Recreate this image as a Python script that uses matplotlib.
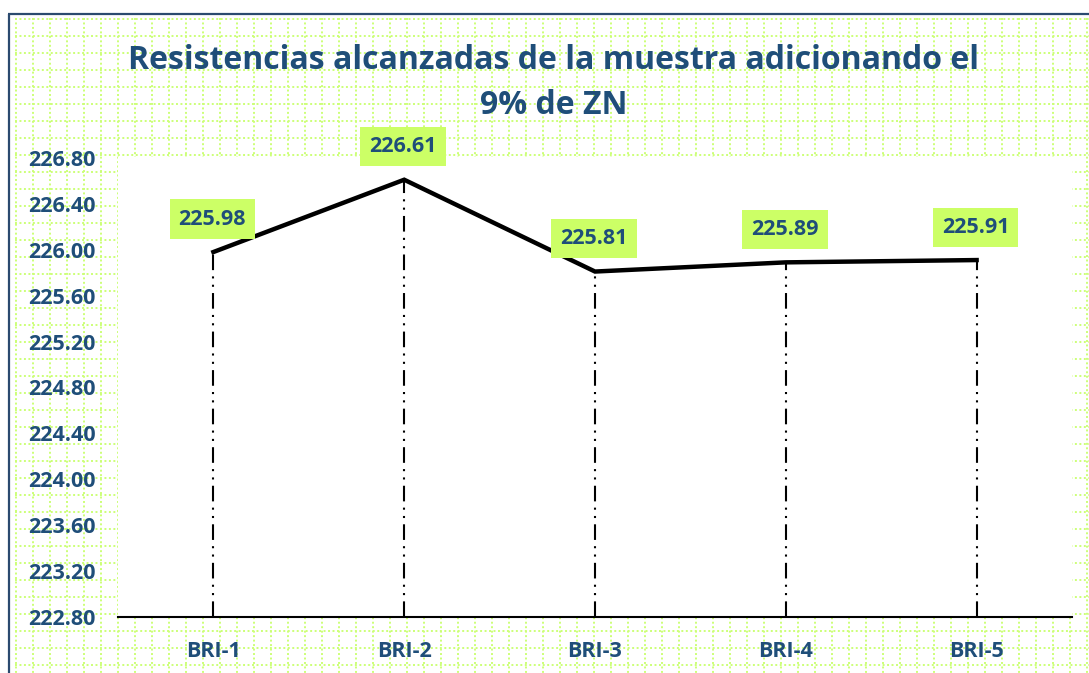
import matplotlib
matplotlib.use("Agg")
import matplotlib.pyplot as plt
import numpy as np

categories = ["BRI-1", "BRI-2", "BRI-3", "BRI-4", "BRI-5"]
values = [225.98, 226.61, 225.81, 225.89, 225.91]
value_labels = ["225.98", "226.61", "225.81", "225.89", "225.91"]
yticks = [222.80, 223.20, 223.60, 224.00, 224.40, 224.80, 225.20, 225.60, 226.00, 226.40, 226.80]
title = "Resistencias alcanzadas de la muestra adicionando el\n9% de ZN"

W, H = 1089, 673
DPI = 100
navy = "#1F4E79"
green_box = "#CCFF66"
grid_green = "#CCFF77"
FONT = ["Open Sans", "DejaVu Sans"]

fig = plt.figure(figsize=(W / DPI, H / DPI), dpi=DPI)
fig.patch.set_facecolor("white")

# background dotted grid (decoration)
bg = fig.add_axes([0, 0, 1, 1], zorder=0)
bg.set_xlim(0, W)
bg.set_ylim(H, 0)
bg.axis("off")
for gx in np.arange(15.7, W, 17.0):
    bg.plot([gx, gx], [18, H], color=grid_green, lw=1.4, ls=(0, (1.0, 1.3)))
for gy in np.arange(19.3, H, 17.0):
    bg.plot([15, W], [gy, gy], color=grid_green, lw=1.4, ls=(0, (1.0, 1.3)))
# border
bg.plot([8.5, 8.5], [14, H], color="#2B4A6F", lw=1.6, solid_capstyle="butt")
bg.plot([8, W], [14, 14], color="#2B4A6F", lw=1.6, solid_capstyle="butt")

# main axes
left, right, top, bottom = 118, 1072, 157, 617
ax = fig.add_axes([left / W, (H - bottom) / H, (right - left) / W, (bottom - top) / H], zorder=2)
ax.set_facecolor("white")
x = np.arange(len(categories))
ax.set_xlim(-0.5, len(categories) - 0.5)
ax.set_ylim(222.80, 226.808)

ax.vlines(x, 222.80, values, colors="black", lw=1.5, linestyles=[(0, (7.5, 3, 1, 3, 1, 3))], zorder=2)
ax.plot(x, values, color="black", lw=3.2, solid_joinstyle="miter", zorder=3)

for xi, v, lab in zip(x, values, value_labels):
    ax.annotate(lab, (xi, v), xytext=(-1, 33), textcoords="offset pixels",
                ha="center", va="center", fontsize=15.5, fontweight="bold", color=navy,
                family=FONT, zorder=4,
                bbox=dict(boxstyle="square,pad=0.42", fc=green_box, ec="none"),
                annotation_clip=False)

ax.set_yticks(yticks)
ax.set_yticklabels([f"{t:.2f}" for t in yticks])
ax.set_xticks(x)
ax.set_xticklabels(categories)
for lbl in ax.get_yticklabels() + ax.get_xticklabels():
    lbl.set_fontsize(15.5)
    lbl.set_fontweight("bold")
    lbl.set_color(navy)
    lbl.set_family(FONT)
ax.tick_params(axis="y", length=0, pad=16)
ax.tick_params(axis="x", length=0, pad=17)
for s in ["left", "right", "top"]:
    ax.spines[s].set_visible(False)
ax.spines["bottom"].set_color("black")
ax.spines["bottom"].set_linewidth(1.5)

fig.text(554 / W, 1 - 83 / H, title, ha="center", va="center", fontsize=23,
         fontweight="bold", color=navy, family=FONT, linespacing=1.45, zorder=3)

fig.savefig("out.png", dpi=DPI, facecolor="white")
